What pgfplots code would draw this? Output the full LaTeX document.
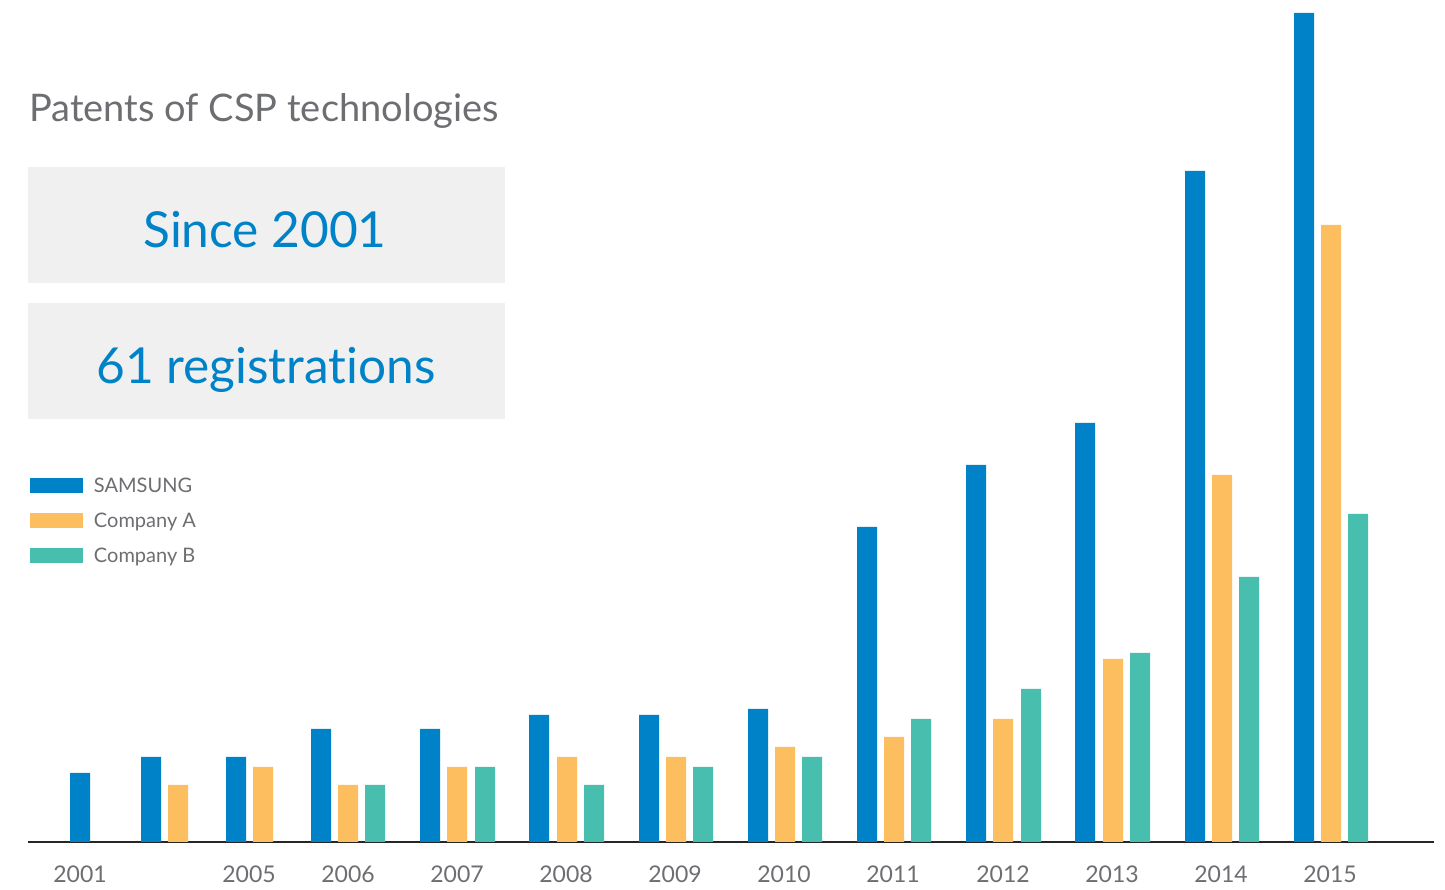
\documentclass[border=0pt]{standalone}
\usepackage{pgfplots}
\pgfplotsset{compat=1.18}
\usepackage{fontspec}
\setmainfont{Lato}[Ligatures=NoCommon]
\definecolor{sblue}{HTML}{0082C8}
\definecolor{cora}{HTML}{FDBE5F}
\definecolor{cteal}{HTML}{48BFAE}
\definecolor{tgrey}{HTML}{6D6E71}
\definecolor{boxgrey}{HTML}{F0F0F0}
\begin{document}
\begin{tikzpicture}
\begin{scope}[x=0.5pt,y=-0.5pt,shift={(-14pt,421pt)}]
\useasboundingbox (0,0) rectangle (1445,889);
\fill[boxgrey] (28,167) rectangle (505,283);
\fill[boxgrey] (28,303) rectangle (505,419);
\node[anchor=base west, inner sep=0pt, text=tgrey, font=\fontsize{19}{22}\selectfont] at (29,122) {Patents of CSP technologies};
\node[anchor=base, inner sep=0pt, text=sblue, font=\fontsize{24.8}{28}\selectfont] at (265,248) {Since 2001};
\node[anchor=base, inner sep=0pt, text=sblue, font=\fontsize{24.8}{28}\selectfont] at (266,384) {61 registrations};
\end{scope}
\begin{axis}[
  scale only axis, width=703pt, height=421pt,
  xmin=28, xmax=1434, ymin=0, ymax=842,
  ybar, bar width=20,
  axis x line=bottom, axis y line=none,
  x axis line style={-, draw=black!85, line width=0.9pt},
  ytick=\empty,
  xtick={80,249,348,457,566,675,784,893,1003,1112,1221,1330},
  xticklabels={2001,2005,2006,2007,2008,2009,2010,2011,2012,2013,2014,2015},
  major tick length=0pt,
  xticklabel style={anchor=base, yshift=-20.5pt, font=\fontsize{11.5}{13}\selectfont, text=tgrey},
  clip=false,
  legend style={at={(axis cs:30,364)}, anchor=north west, draw=none, fill=none,
    inner sep=0pt, outer sep=0pt, row sep=9.8pt, font=\fontsize{10}{12}\selectfont,
    text=tgrey, nodes={inner sep=0pt, text depth=0pt},
    /tikz/every odd column/.append style={column sep=5.5pt}},
  legend cell align=left,
]
\addplot[fill=sblue, draw=none, bar shift=0,
  legend image code/.code={\fill[sblue] (0pt,-4pt) rectangle (26.5pt,3.5pt);}]
  coordinates {(80,69) (151,85) (236,85) (321,113) (430,113) (539,127) (649,127) (758,133) (867,315) (976,377) (1085,419) (1195,671) (1304,829)};
\addlegendentry{SAMSUNG}
\addplot[fill=cora, draw=none, bar shift=0,
  legend image code/.code={\fill[cora] (0pt,-4pt) rectangle (26.5pt,3.5pt);}]
  coordinates {(178,57) (263,75) (348,57) (457,75) (567,85) (676,85) (785,95) (894,105) (1003,123) (1113,183) (1222,367) (1331,617)};
\addlegendentry{Company A}
\addplot[fill=cteal, draw=none, bar shift=0,
  legend image code/.code={\fill[cteal] (0pt,-4pt) rectangle (26.5pt,3.5pt);}]
  coordinates {(375,57) (485,75) (594,57) (703,75) (812,85) (921,123) (1031,153) (1140,189) (1249,265) (1358,328)};
\addlegendentry{Company B}
\end{axis}
\end{tikzpicture}
\end{document}
